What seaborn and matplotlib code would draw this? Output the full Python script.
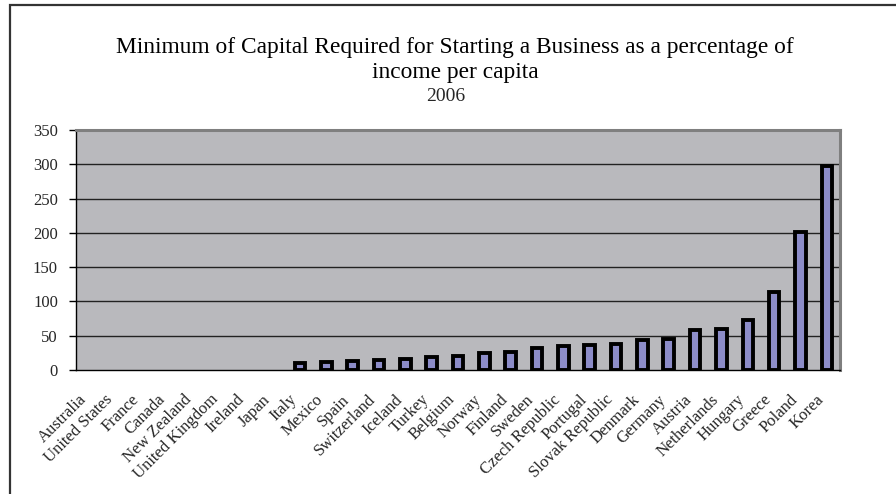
import matplotlib
matplotlib.use("Agg")
import matplotlib.pyplot as plt
from matplotlib.patches import Rectangle
from matplotlib.ticker import FixedLocator
from matplotlib.transforms import ScaledTranslation
import seaborn as sns
import pandas as pd
import numpy as np

countries = [
    "Australia", "United States", "France", "Canada", "New Zealand",
    "United Kingdom", "Ireland", "Japan", "Italy", "Mexico", "Spain",
    "Switzerland", "Iceland", "Turkey", "Belgium", "Norway", "Finland",
    "Sweden", "Czech Republic", "Portugal", "Slovak Republic", "Denmark",
    "Germany", "Austria", "Netherlands", "Hungary", "Greece", "Poland", "Korea",
]
min_capital_pct = [
    0, 0, 0, 0, 0,
    0, 0, 0, 9.6, 12.0, 13.6,
    14.6, 15.5, 18.4, 20.8, 24.2, 26.2,
    32.5, 35.4, 36.9, 37.9, 43.2,
    44.6, 58.0, 60.0, 72.6, 113.7, 201.6, 296.8,
]
y_ticks = [0, 50, 100, 150, 200, 250, 300, 350]

title_text = "Minimum of Capital Required for Starting a Business as a percentage of\nincome per capita"
subtitle_text = "2006"

df = pd.DataFrame({"country": countries, "value": min_capital_pct})

sns.set_theme(style="white")
plt.rcParams["font.family"] = ["Liberation Serif", "DejaVu Serif"]

W, H = 896, 494
fig = plt.figure(figsize=(W / 100, H / 100), dpi=100)
fig.patch.set_facecolor("white")

left, right, top, bottom = 76, 840, 130, 370
ax = fig.add_axes([left / W, 1 - bottom / H, (right - left) / W, (bottom - top) / H])
ax.set_facecolor("#b9b9bd")

sns.barplot(data=df, x="country", y="value", ax=ax, color="#8c8cc8",
            edgecolor="black", linewidth=2.8, width=0.4, saturation=1, zorder=3)

# empty categories get no visible bar outline
for bar, v in zip(ax.patches, min_capital_pct):
    if v == 0:
        bar.set_linewidth(0)

n = len(countries)
ax.set_xlim(-0.5, n - 0.5)
ax.set_ylim(0, 350)
ax.set_yticks(y_ticks)
ax.set_yticklabels([str(t) for t in y_ticks], fontsize=12)

# horizontal gridlines
for t in y_ticks[1:-1]:
    ax.axhline(t, color="#222222", linewidth=1.0, zorder=1)

ax.set_xlabel("")
ax.set_ylabel("")

# category labels at bar centres, ticks at category boundaries
ax.set_xticks(np.arange(n))
ax.xaxis.set_minor_locator(FixedLocator(np.arange(n + 1) - 0.5))
ax.tick_params(axis="x", which="major", length=0, pad=9)
ax.tick_params(axis="x", which="minor", length=5, width=1, color="black", direction="out")
ax.tick_params(axis="y", which="major", length=5, width=1, color="black",
               direction="out", pad=8, left=True)
ax.set_xticklabels(countries, rotation=45, ha="right", va="top",
                   rotation_mode="anchor", fontsize=12)
shift = ScaledTranslation(-11 / 100, -9 / 100, fig.dpi_scale_trans)
for lbl in ax.get_xticklabels():
    lbl.set_transform(lbl.get_transform() + shift)

for side in ("left", "bottom"):
    ax.spines[side].set_color("black")
    ax.spines[side].set_linewidth(1.0)
for side in ("top", "right"):
    ax.spines[side].set_color("#7f7f7f")
    ax.spines[side].set_linewidth(2.2)

fig.text(455 / W, 1 - 60 / H, title_text, ha="center", va="center",
         fontsize=16.8, linespacing=1.25, color="black")
fig.text(446 / W, 1 - 96 / H, subtitle_text, ha="center", va="center",
         fontsize=14, color="#262626")

# outer chart frame
frame = Rectangle((9.5 / W, -0.2), 1.2, 1 - 5.5 / H + 0.2, transform=fig.transFigure,
                  fill=False, edgecolor="#333333", linewidth=1.6)
fig.patches.append(frame)

fig.savefig("out.png", dpi=100, facecolor="white")
